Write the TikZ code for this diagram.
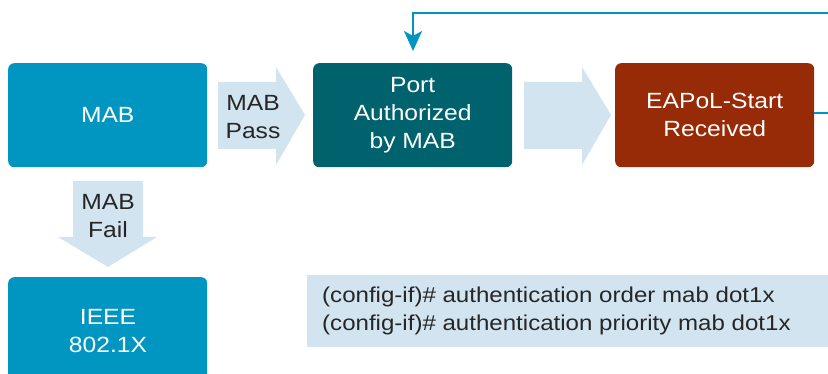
\documentclass[tikz,border=0pt]{standalone}
\usepackage{fontspec}
\setmainfont[FakeStretch=1.12]{Liberation Sans}
\usetikzlibrary{arrows.meta}
\definecolor{mabblue}{HTML}{0096C1}
\definecolor{portteal}{HTML}{00626C}
\definecolor{eapred}{HTML}{982B07}
\definecolor{lightarrow}{HTML}{D3E4F1}
\tikzset{
  statebox/.style={rounded corners=6pt, minimum width=199pt, minimum height=104pt, inner sep=0pt, text=white, align=center, font=\fontsize{22}{28}\selectfont},
  arrowlabel/.style={inner sep=0pt, align=center, text=black!85, font=\fontsize{22}{28}\selectfont},
  bigarrow/.style={fill=lightarrow, draw=none},
  loopline/.style={draw=mabblue, line width=2.2pt, -{Stealth[length=20pt,width=18pt,inset=5pt]}}
}
\begin{document}
\begin{tikzpicture}[x=1pt,y=-1pt]
\useasboundingbox (0,0) rectangle (828,374);
\fill[white] (0,0) rectangle (828,374);
% boxes
\node[statebox, fill=mabblue, anchor=north west] (mab) at (8,63) {MAB};
\node[statebox, fill=portteal, anchor=north west] (port) at (313,63) {Port\\Authorized\\by MAB};
\node[statebox, fill=eapred, anchor=north west] (eap) at (615,63) {EAPoL-Start\\Received};
\node[statebox, fill=mabblue, anchor=north west, minimum height=110pt] (ieee) at (8,277) {};
\node[text=white, align=center, font=\fontsize{22}{28}\selectfont] (ieeetext) at (108,331) {IEEE\\802.1X};
% arrows
\path[bigarrow] (218,82) -- (276,82) -- (276,67) -- (305,115) -- (276,165) -- (276,149) -- (218,149) -- cycle;
\node[arrowlabel] (pass) at (253,117) {MAB\\Pass};
\path[bigarrow] (524,82) -- (582,82) -- (582,67) -- (611,115) -- (582,165) -- (582,149) -- (524,149) -- cycle;
\path[bigarrow] (73,181) -- (143,181) -- (143,237) -- (157,237) -- (108,267) -- (58,237) -- (73,237) -- cycle;
\node[arrowlabel] (fail) at (108,216) {MAB\\Fail};
% code box
\fill[lightarrow] (307,275) rectangle (830,347);
\node[anchor=west, align=left, inner sep=0pt, text=black!85, font=\fontsize{21.5}{28}\selectfont] (code) at (322,311)
  {(config-if)\# authentication order mab dot1x\\(config-if)\# authentication priority mab dot1x};
% loop
\coordinate (r1) at (840,113);
\coordinate (r2) at (840,13);
\coordinate (t1) at (413,13);
\coordinate (tip) at (413,51);
\draw[loopline] (eap.east |- r1) -- (r1) -- (r2) -- (t1) -- (tip);
\end{tikzpicture}
\end{document}
